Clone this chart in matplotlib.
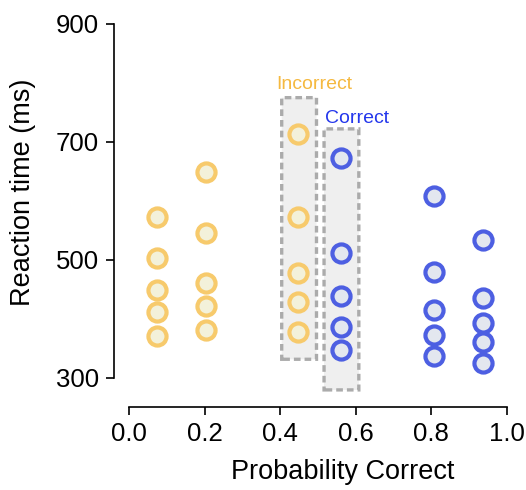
import matplotlib.pyplot as plt
from matplotlib.patches import FancyBboxPatch

plt.rcParams['font.family'] = ['Liberation Sans', 'DejaVu Sans']

# probability correct (x) and reaction times (ms) for each column of points
x_incorrect = [0.075, 0.205, 0.448]
rt_incorrect = [
    [572, 503, 448, 411, 371],
    [649, 545, 460, 421, 380],
    [714, 572, 477, 428, 378],
]
x_correct = [0.562, 0.807, 0.936]
rt_correct = [
    [673, 511, 438, 385, 346],
    [608, 479, 414, 373, 336],
    [534, 435, 392, 360, 324],
]

# highlighted boxes: (x0, x1, y0, y1)
box_incorrect = (0.404, 0.496, 331, 775)
box_correct = (0.516, 0.608, 279, 722)

orange_edge, orange_face = '#F7CA6C', '#F3F1DA'
blue_edge, blue_face = '#4D5FE2', '#E3E7EF'

fig = plt.figure(figsize=(5.26, 4.9), dpi=100)
ax = fig.add_axes([129 / 526, 1 - 407 / 490, 378 / 526, 383 / 490])

for (x0, x1, y0, y1) in [box_incorrect, box_correct]:
    ax.add_patch(FancyBboxPatch((x0, y0), x1 - x0, y1 - y0,
                                boxstyle='round,pad=0,rounding_size=0.004',
                                facecolor='#EFEFEF', edgecolor='#ABABAB',
                                linewidth=2.4, linestyle=(0, (2, 1.2)), zorder=1))

for x, ys in zip(x_incorrect, rt_incorrect):
    ax.scatter([x] * len(ys), ys, s=170, facecolor=orange_face,
               edgecolor=orange_edge, linewidth=3, zorder=3)
for x, ys in zip(x_correct, rt_correct):
    ax.scatter([x] * len(ys), ys, s=170, facecolor=blue_face,
               edgecolor=blue_edge, linewidth=3, zorder=3)

ax.text(0.389, 790, 'Incorrect', color='#F5B940', fontsize=14)
ax.text(0.518, 732, 'Correct', color='#2437EC', fontsize=14)

ax.set_xlim(0, 1)
ax.set_ylim(250, 900)
ax.set_xticks([0.0, 0.2, 0.4, 0.6, 0.8, 1.0])
ax.set_xticklabels(['0.0', '0.2', '0.4', '0.6', '0.8', '1.0'])
ax.set_yticks([300, 500, 700, 900])

for side in ['top', 'right']:
    ax.spines[side].set_visible(False)
ax.spines['left'].set_position(('outward', 11))
ax.spines['left'].set_bounds(300, 900)
ax.spines['bottom'].set_bounds(0, 1)
for side in ['left', 'bottom']:
    ax.spines[side].set_linewidth(1.2)

ax.tick_params(labelsize=18.5, width=1.2, length=5.5, pad=5)
ax.set_xlabel('Probability Correct', fontsize=19.5)
ax.set_ylabel('Reaction time (ms)', fontsize=19.5)
ax.xaxis.set_label_coords(0.566, -0.135)
ax.yaxis.set_label_coords(-0.246, 0.561)

fig.savefig('out.png', dpi=100)
